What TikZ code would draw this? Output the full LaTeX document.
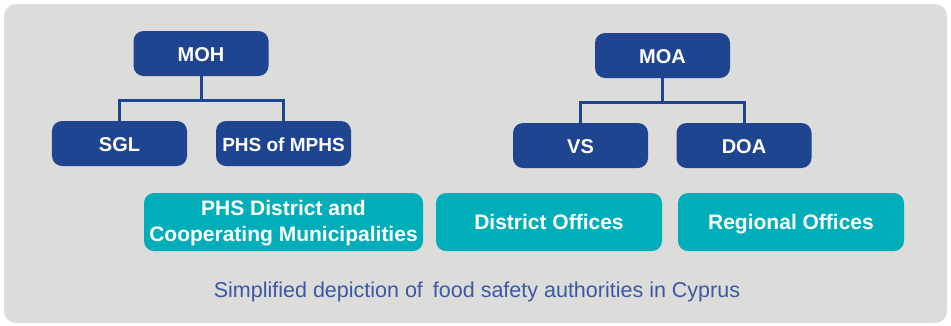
\documentclass[tikz,border=0pt]{standalone}
\usepackage{fontspec}
\setmainfont{Liberation Sans}
\definecolor{bgray}{RGB}{220,220,219}
\definecolor{navy}{RGB}{31,69,145}
\definecolor{tealbox}{RGB}{0,174,186}
\definecolor{captblue}{RGB}{59,88,163}
\begin{document}
\begin{tikzpicture}[x=1bp,y=-1bp,
  topbox/.style={fill=navy, rounded corners=10bp, text=white, font=\fontsize{20bp}{24bp}\selectfont\bfseries, minimum width=135bp, minimum height=45bp, inner sep=0pt, align=center},
  lowbox/.style={fill=tealbox, rounded corners=10bp, text=white, font=\fontsize{21bp}{26bp}\selectfont\bfseries, minimum height=58bp, inner sep=0pt, align=center},
  oneline/.style={text height=15bp, text depth=0pt},
  conn/.style={draw=navy, line width=3bp}]
\useasboundingbox (0,0) rectangle (951,325);
\fill[bgray, rounded corners=12bp] (4,4) rectangle (947,323);
\node[topbox, oneline] (moh) at (201,53.5) {MOH};
\node[topbox, oneline] (sgl) at (119.5,143.5) {SGL};
\node[topbox, oneline] (phs) at (283.5,143.5) {\fontsize{19bp}{24bp}\selectfont PHS of MPHS};
\node[lowbox, minimum width=279bp] (phsd) at (283.5,222) {\rule{0pt}{17bp}PHS District and\\Cooperating Municipalities};
\node[topbox, oneline] (moa) at (662.5,55.5) {MOA};
\node[topbox, oneline] (vs) at (580.5,145.5) {VS};
\node[topbox, oneline] (doa) at (744,145.5) {DOA};
\node[lowbox, oneline, minimum width=226bp] (dist) at (549,222) {District Offices};
\node[lowbox, oneline, minimum width=226bp] (reg) at (791,222) {Regional Offices};
\draw[conn] (sgl.north) -- ++(0,-20) -| (phs.north);
\draw[conn] (moh.south) -- ++(0,25);
\draw[conn] (vs.north) -- ++(0,-20) -| (doa.north);
\draw[conn] (moa.south) -- ++(0,25);
\node[anchor=base, text=captblue, font=\fontsize{21.5bp}{24bp}\selectfont, inner sep=0pt] (cap) at (477,297) {Simplified depiction of\hspace{4bp} food safety authorities in Cyprus};
\end{tikzpicture}
\end{document}
